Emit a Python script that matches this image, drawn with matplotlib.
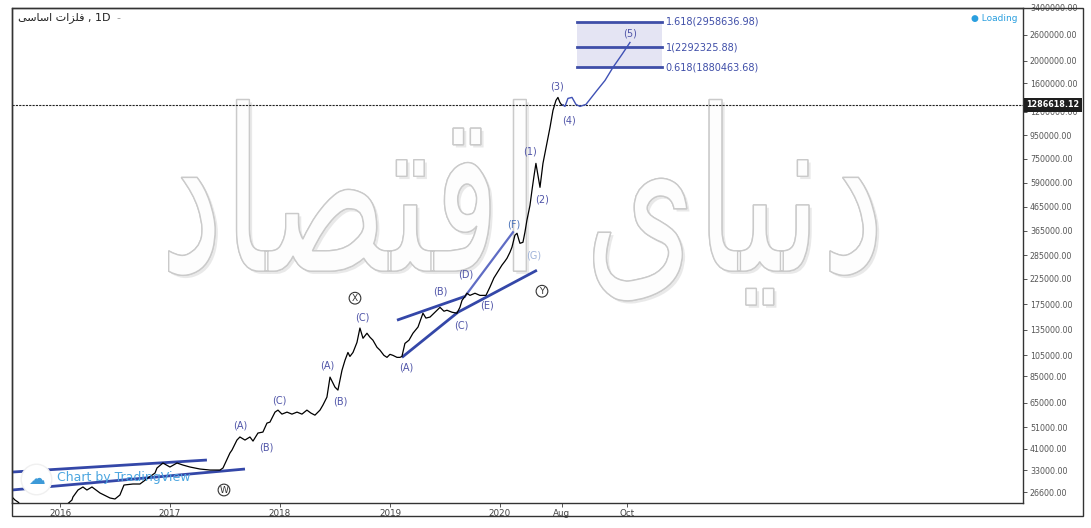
import numpy as np
import matplotlib
matplotlib.use("Agg")
import matplotlib.pyplot as plt
from matplotlib.textpath import TextPath
from matplotlib.font_manager import FontProperties
from matplotlib.patches import PathPatch, Rectangle
from matplotlib.transforms import Affine2D, blended_transform_factory
from matplotlib.ticker import NullLocator, FixedFormatter
import matplotlib.patheffects as pe

# ---- data (decimal year, price) ----
price_t = [2015.564, 2015.591, 2015.618, 2015.773, 2015.955, 2016.109, 2016.118, 2016.164,
           2016.209, 2016.245, 2016.291, 2016.364, 2016.455, 2016.5, 2016.545, 2016.582,
           2016.664, 2016.727, 2016.8, 2016.864, 2016.882, 2016.936, 2017.0, 2017.064,
           2017.118, 2017.182, 2017.273, 2017.364, 2017.455, 2017.482, 2017.545, 2017.564,
           2017.609, 2017.636, 2017.682, 2017.727, 2017.755, 2017.8, 2017.845, 2017.882,
           2017.909, 2017.955, 2017.982, 2018.018, 2018.064, 2018.109, 2018.155, 2018.2,
           2018.245, 2018.282, 2018.318, 2018.364, 2018.391, 2018.427, 2018.455, 2018.482,
           2018.5, 2018.527, 2018.564, 2018.591, 2018.618, 2018.636, 2018.664, 2018.7,
           2018.727, 2018.755, 2018.791, 2018.818, 2018.845, 2018.882, 2018.909, 2018.945,
           2018.973, 2019.0, 2019.027, 2019.064, 2019.091, 2019.109, 2019.136, 2019.173,
           2019.209, 2019.255, 2019.3, 2019.327, 2019.364, 2019.409, 2019.455, 2019.491,
           2019.518, 2019.564, 2019.609, 2019.636, 2019.655, 2019.682, 2019.7, 2019.727,
           2019.773, 2019.818, 2019.873, 2019.909, 2019.945, 2019.973, 2020.0, 2020.018,
           2020.045, 2020.064, 2020.091, 2020.109, 2020.136, 2020.155, 2020.173, 2020.182,
           2020.209, 2020.227, 2020.245, 2020.273, 2020.291, 2020.309, 2020.327, 2020.345,
           2020.364, 2020.391, 2020.427, 2020.455, 2020.482, 2020.509, 2020.527, 2020.545,
           2020.564, 2020.573]
price_v = [25300, 24550, 24070, 20090, 21130, 24550, 25300, 27140,
           27970, 27140, 27970, 26340, 25050, 24800, 25810, 28530,
           28820, 28820, 30600, 32170, 33830, 35570, 34170, 35570,
           34850, 34170, 33490, 33150, 33150, 33830, 39300, 40510,
           44770, 46170, 44770, 46170, 44320, 48030, 48500, 53070,
           53590, 59240, 60440, 58060, 59240, 58060, 59240, 58060,
           60440, 58650, 57460, 60440, 63610, 68850, 84120, 79230,
           76110, 73870, 90130, 99510, 107720, 103500, 107720, 119090,
           137580, 124170, 130590, 125510, 121830, 113460, 110230, 104630,
           102540, 105700, 104630, 102540, 102540, 103500, 117900, 121830,
           130590, 138960, 159610, 152010, 153530, 161200, 169280, 162820,
           164450, 161200, 159610, 169280, 181500, 188930, 194980, 190840,
           194980, 190840, 190840, 207440, 227230, 238770, 250890, 258430,
           268670, 276880, 294010, 309120, 348650, 355700, 331650, 321590,
           324870, 359260, 404960, 470530, 546870, 629140, 716600, 635470,
           563550, 716600, 875830, 1027740, 1218300, 1346500, 1387700, 1319900,
           1280800, 1286618]

proj_t = [2020.573, 2020.591, 2020.618, 2020.655, 2020.691, 2020.727, 2020.782,
          2020.882, 2020.955, 2021.027, 2021.109, 2021.182]
proj_v = [1286618, 1268000, 1373900, 1387700, 1293800, 1268000, 1293800,
          1488500, 1644700, 1873400, 2134100, 2406800]

last_price = 1286618.12

fib_ratios = ["1.618", "1", "0.618"]
fib_levels = [2958636.98, 2292325.88, 1880463.68]
fib_t = [2020.700, 2021.473]

# trend lines
chan_up_t, chan_up_v = [2015.564, 2017.336], [32490, 36650]
chan_lo_t, chan_lo_v = [2015.564, 2017.682], [27140, 33490]
mid_up_t, mid_up_v = [2019.064, 2019.682], [148850, 188930]
mid_lo_t, mid_lo_v = [2019.109, 2019.618, 2020.336], [102540, 161200, 245540]
df_t, df_v = [2019.682, 2020.118], [188930, 359260]

# wave labels: text, year, price
wave_labels = [("(A)", 2017.636, 52030), ("(B)", 2017.873, 41740), ("(C)", 2017.991, 66820),
               ("(A)", 2018.427, 94860), ("(B)", 2018.545, 66150), ("(C)", 2018.745, 153530),
               ("(A)", 2019.145, 92970), ("(B)", 2019.455, 198970), ("(C)", 2019.645, 141570),
               ("(D)", 2019.691, 235890), ("(E)", 2019.882, 172980),
               ("(1)", 2020.273, 807840), ("(2)", 2020.382, 499810), ("(3)", 2020.518, 1549200),
               ("(4)", 2020.627, 1102300), ("(5)", 2021.182, 2633400)]
circle_labels = [("W", 2017.491, 27140), ("X", 2018.682, 185540), ("Y", 2020.382, 198970)]
f_label = ("(F)", 2020.127, 389160)
g_label = ("(G)", 2020.309, 285310)

y_ticks = [26600, 33000, 41000, 51000, 65000, 85000, 105000, 135000, 175000, 225000,
           285000, 365000, 465000, 590000, 750000, 950000, 1200000, 1600000, 2000000,
           2600000, 3400000]
x_tick_pos = [2016, 2017, 2018, 2019, 2020, 2020.564, 2021.155]
x_tick_lab = ["2016", "2017", "2018", "2019", "2020", "Aug", "Oct"]

title_fa = "\uFEF0\uFEB3\uFE8E\uFEB3\uFE8D \uFE95\uFE8D\uFEB0\uFEE0\uFED3"
watermark_fa = "\uFEA9\uFE8E\uFEBC\uFE98\uFED7\uFE8D \uFEEF\uFE8E\uFEF4\uFEE7\uFEA9"

# ---- figure ----
W, H = 1091, 528
fig = plt.figure(figsize=(W / 100, H / 100), dpi=100)
ax = fig.add_axes([12 / W, (H - 503) / H, 1011 / W, 495 / H])
ax.set_yscale("log")
ax.set_xlim(2015.564, 2024.755)
ax.set_ylim(23825, 3382700)

# watermark
fp = FontProperties(family="DejaVu Sans")
tp = TextPath((0, 0), watermark_fa, size=100, prop=fp)
ext = tp.get_extents()
x0, x1, y0, y1 = 0.155, 0.855, 0.40, 0.815
tr = Affine2D().translate(-ext.x0, -ext.y0).scale((x1 - x0) / ext.width, (y1 - y0) / ext.height).translate(x0, y0)
wm = PathPatch(tr.transform_path(tp), transform=ax.transAxes, fc="#fdfdfd", ec="#cacaca", lw=1.0, zorder=1)
wm.set_path_effects([pe.withSimplePatchShadow(offset=(2, -2), shadow_rgbFace="#d0d0d0", alpha=0.45), pe.Normal()])
ax.add_patch(wm)

# fib box
ax.fill_between(fib_t, fib_levels[2], fib_levels[0], color="#e4e4f3", zorder=2, lw=0)
for r, lv in zip(fib_ratios, fib_levels):
    ax.plot(fib_t, [lv, lv], color="#3f4ea8", lw=2, zorder=3)
    ax.text(fib_t[1] + 0.035, lv, "%s(%.2f)" % (r, lv), color="#3f4ea8", fontsize=7,
            va="center", ha="left", zorder=4)

# last price line
ax.axhline(last_price, color="#222222", lw=0.8, ls=(0, (2, 1)), zorder=3)

# trend lines
for tt, vv in [(chan_up_t, chan_up_v), (chan_lo_t, chan_lo_v), (mid_up_t, mid_up_v), (mid_lo_t, mid_lo_v)]:
    ax.plot(tt, vv, color="#3447a8", lw=2, zorder=4, solid_capstyle="butt")
ax.plot(df_t, df_v, color="#5f6cc4", lw=1.6, zorder=4)

# price
ax.plot(price_t, price_v, color="black", lw=0.9, zorder=5)
ax.plot(proj_t, proj_v, color="#3f51b5", lw=1, zorder=5)

# labels
for s, t, v in wave_labels:
    ax.text(t, v, s, color="#5055a8", fontsize=7, ha="center", va="center", zorder=6)
ax.text(f_label[1], f_label[2], f_label[0], color="#4a72b8", fontsize=7, ha="center", va="center", zorder=6)
ax.text(g_label[1], g_label[2], g_label[0], color="#9fb3da", fontsize=7, ha="center", va="center", zorder=6)
for s, t, v in circle_labels:
    ax.text(t, v, s, color="#333333", fontsize=6.5, ha="center", va="center", zorder=6,
            bbox=dict(boxstyle="circle,pad=0.15", fc="none", ec="#333333", lw=0.8))

# axes styling
for sp in ax.spines.values():
    sp.set_color("#333333")
    sp.set_linewidth(1)
ax.yaxis.tick_right()
ax.set_yticks(y_ticks)
ax.yaxis.set_major_formatter(FixedFormatter(["%.2f" % v for v in y_ticks]))
ax.yaxis.set_minor_locator(NullLocator())
ax.set_xticks(x_tick_pos, x_tick_lab)
ax.xaxis.set_minor_locator(NullLocator())
ax.tick_params(axis="y", length=3, width=0.7, color="#555555", labelsize=5.7, labelcolor="#555555", pad=2)
ax.tick_params(axis="x", length=3, width=0.7, color="#555555", labelsize=6.3, labelcolor="#444444", pad=1)

# last price tag
bt = blended_transform_factory(ax.transAxes, ax.transData)
ax.text(1.003, last_price, "%.2f" % last_price, transform=bt, color="white", fontsize=5.8,
        fontweight="bold", va="center", ha="left", zorder=10, clip_on=False,
        bbox=dict(fc="#1e1e1e", ec="none", pad=1.8))

# loading, watermark logo
ax.text(0.995, 0.978, "\u25cf Loading", transform=ax.transAxes, color="#2a9fdf", fontsize=6.5,
        ha="right", va="center")
ax.plot([0.0237], [0.0485], "o", ms=22, mfc="white", mec="#f0f0f0", transform=ax.transAxes, zorder=7,
        clip_on=False)
ax.text(0.0237, 0.049, "\u2601", transform=ax.transAxes, color="#3d9ad8", fontsize=12, ha="center",
        va="center", zorder=8)
ax.text(0.045, 0.052, "Chart by TradingView", transform=ax.transAxes, color="#4ca6e0", fontsize=9,
        ha="left", va="center", zorder=8)

# title
fig.text(18 / W, 1 - 18 / H, title_fa + " , 1D", fontsize=8, color="#222222", va="center", ha="left",
         family="DejaVu Sans")
fig.text(116 / W, 1 - 18 / H, "-", fontsize=8, color="#999999", va="center", ha="left")

# outer frame
fig.add_artist(Rectangle((12 / W, (H - 516) / H), (1083 - 12) / W, (516 - 8) / H, transform=fig.transFigure,
                         fill=False, ec="#333333", lw=1))

fig.savefig("out.png", dpi=100)
